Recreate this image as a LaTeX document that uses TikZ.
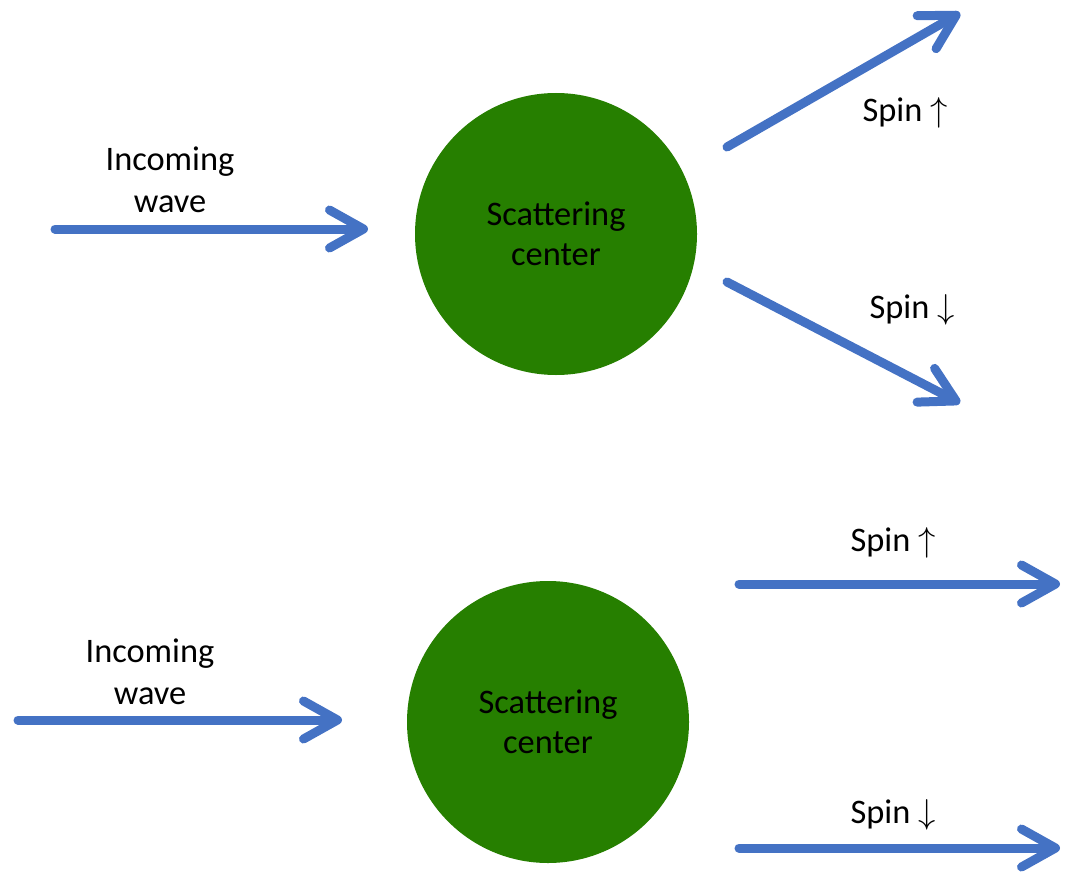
\documentclass[tikz,border=0pt]{standalone}
\usepackage{fontspec}
\setmainfont{Carlito}
\usetikzlibrary{arrows.meta}
\definecolor{wavblue}{RGB}{68,114,196}
\definecolor{scgreen}{RGB}{38,127,0}
\begin{document}
\begin{tikzpicture}[x=0.5pt,y=-0.5pt,
  wave/.style={draw=wavblue,line width=4.5pt,line cap=round,
    -{Straight Barb[length=17pt,width=19pt,line cap=round,line join=round]}},
  center/.style={circle,fill=scgreen,draw=none,minimum size=141pt,inner sep=0pt,
    align=center,font=\fontsize{17.2}{20}\selectfont},
  lbl/.style={align=center,font=\fontsize{17.2}{21}\selectfont,inner sep=0pt}]
\useasboundingbox (0,0) rectangle (1081,872);
% top scene
\node[center] (c1) at (556,234) {Scattering\\center};
\coordinate (i1s) at (55,229);
\coordinate (i1e) at (368,229);
\node[lbl] (t1) at (170,180) {Incoming\\wave};
\draw[wave] (i1s) -- (i1e);
\coordinate (u1s) at (727,147);
\coordinate (u1e) at (960,13);
\draw[wave] (u1s) -- (u1e);
\node[lbl] (su1) at (905,113) {Spin $\uparrow$};
\coordinate (d1s) at (727,282);
\coordinate (d1e) at (960,403);
\draw[wave] (d1s) -- (d1e);
\node[lbl] (sd1) at (912,310) {Spin $\downarrow$};
% bottom scene
\node[center] (c2) at (548,722) {Scattering\\center};
\coordinate (i2s) at (18,720);
\coordinate (i2e) at (342,720);
\node[lbl] (t2) at (150,672) {Incoming\\wave};
\draw[wave] (i2s) -- (i2e);
\coordinate (u2s) at (739,584);
\coordinate (u2e) at (1060,584);
\draw[wave] (u2s) -- (u2e);
\node[lbl] (su2) at (893,543) {Spin $\uparrow$};
\coordinate (d2s) at (739,848);
\coordinate (d2e) at (1060,848);
\draw[wave] (d2s) -- (d2e);
\node[lbl] (sd2) at (893,815) {Spin $\downarrow$};
\end{tikzpicture}
\end{document}
